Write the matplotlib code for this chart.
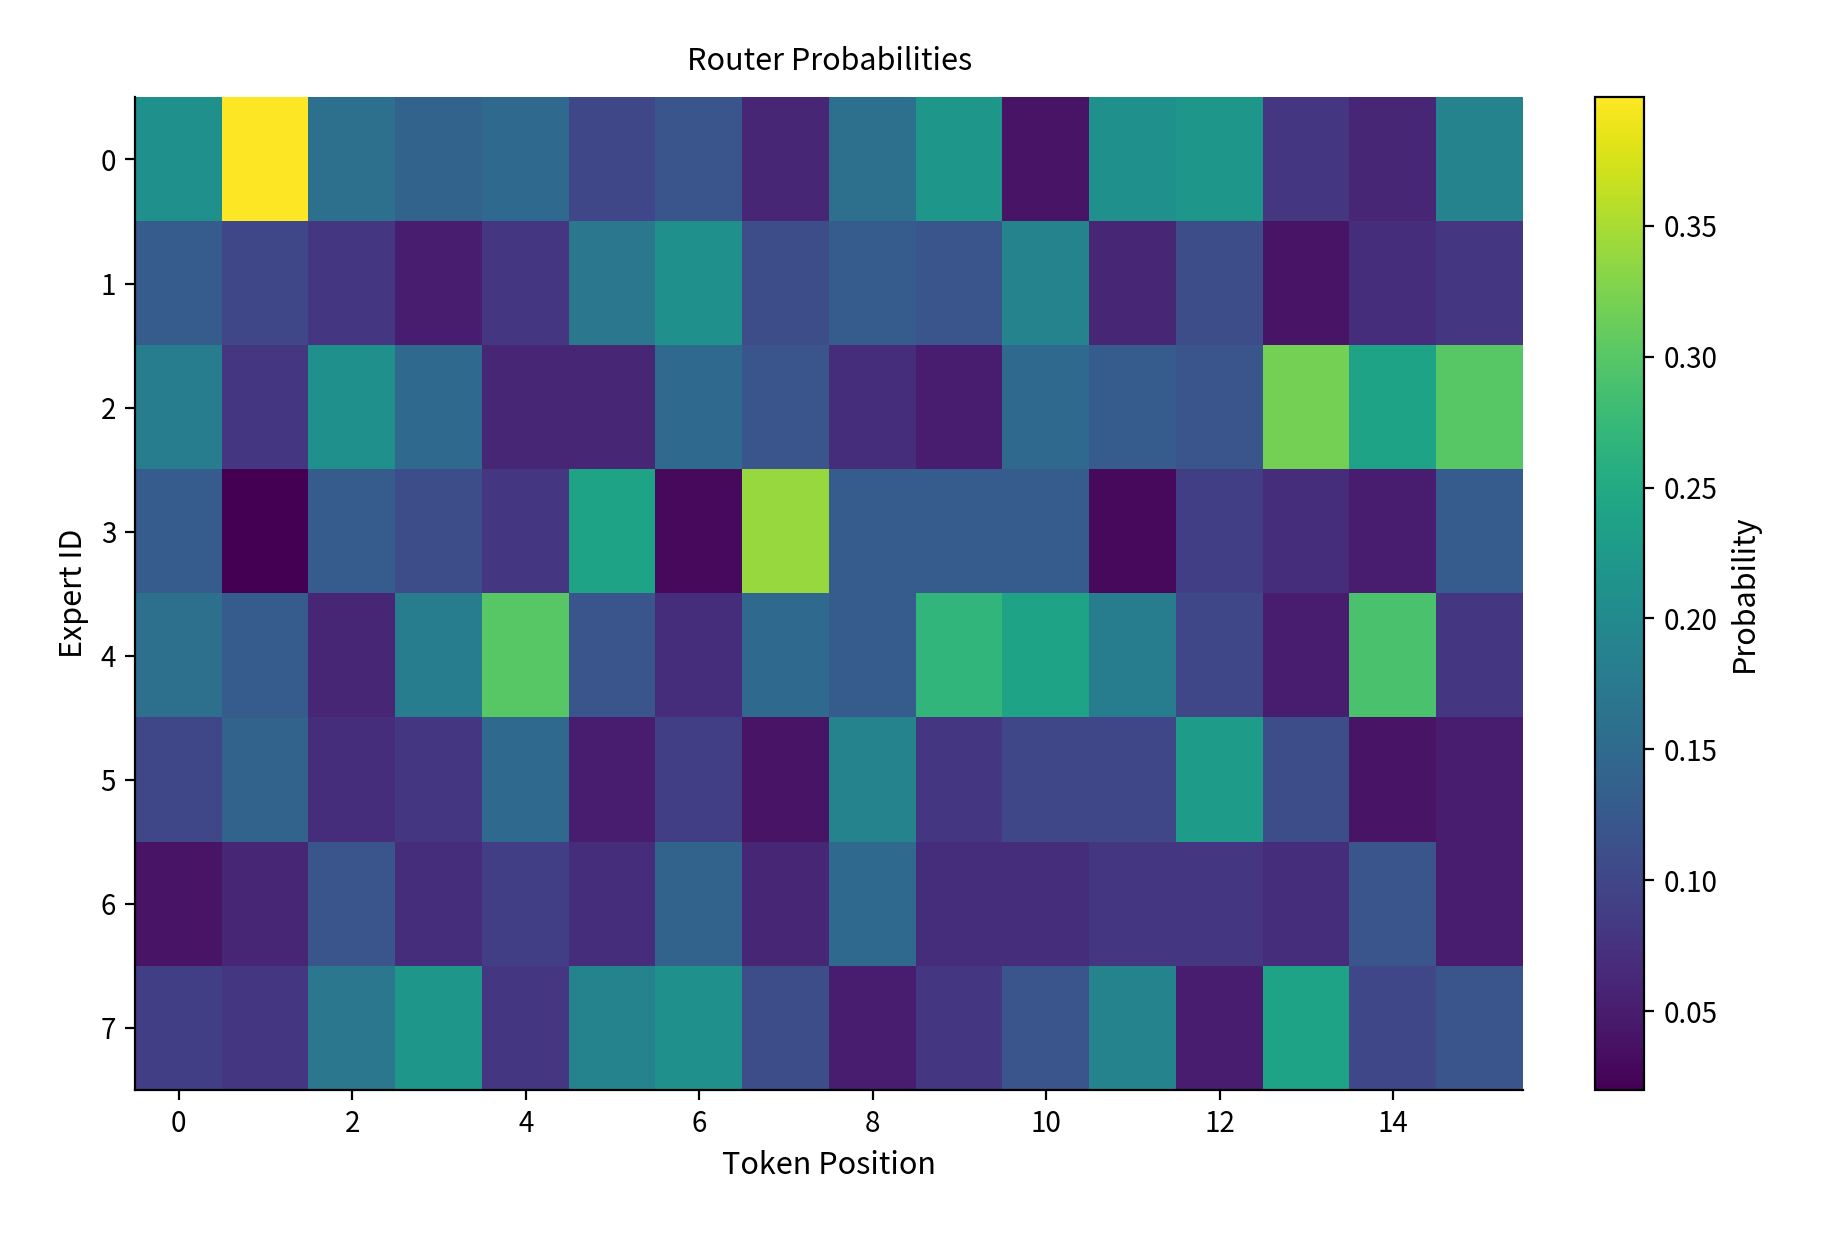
import matplotlib
matplotlib.use("Agg")
import matplotlib.pyplot as plt
import numpy as np

plt.rcParams['font.family'] = ['Noto Sans CJK KR', 'DejaVu Sans']

experts = list(range(8))
tokens = list(range(16))
row0 = [0.21, 0.399, 0.16, 0.14, 0.15, 0.10, 0.12, 0.06, 0.16, 0.22, 0.04, 0.21, 0.22, 0.08, 0.06, 0.19]
row1 = [0.13, 0.10, 0.08, 0.05, 0.08, 0.17, 0.21, 0.11, 0.13, 0.12, 0.19, 0.06, 0.11, 0.04, 0.07, 0.08]
row2 = [0.18, 0.08, 0.21, 0.15, 0.06, 0.06, 0.15, 0.12, 0.07, 0.05, 0.15, 0.13, 0.12, 0.32, 0.24, 0.30]
row3 = [0.13, 0.02, 0.13, 0.11, 0.08, 0.24, 0.03, 0.34, 0.13, 0.13, 0.13, 0.03, 0.09, 0.07, 0.05, 0.13]
row4 = [0.16, 0.13, 0.06, 0.18, 0.30, 0.12, 0.07, 0.15, 0.13, 0.27, 0.24, 0.18, 0.10, 0.05, 0.29, 0.08]
row5 = [0.10, 0.14, 0.07, 0.08, 0.15, 0.05, 0.09, 0.04, 0.19, 0.08, 0.10, 0.10, 0.23, 0.11, 0.04, 0.05]
row6 = [0.04, 0.06, 0.12, 0.07, 0.09, 0.07, 0.14, 0.06, 0.15, 0.07, 0.07, 0.08, 0.08, 0.07, 0.12, 0.05]
row7 = [0.09, 0.08, 0.17, 0.22, 0.08, 0.19, 0.21, 0.11, 0.05, 0.08, 0.12, 0.19, 0.05, 0.24, 0.10, 0.12]
data = np.array([row0, row1, row2, row3, row4, row5, row6, row7])

fig = plt.figure(figsize=(9.155, 6.17), dpi=200)
ax = fig.add_axes([0.074, 0.117, 0.758, 0.804])
cax = fig.add_axes([0.871, 0.117, 0.027, 0.804])
im = ax.imshow(data, cmap='viridis', aspect='auto', interpolation='nearest')
for s in ['top', 'right']:
    ax.spines[s].set_visible(False)
ax.set_xticks(tokens[::2])
ax.set_yticks(experts)
ax.tick_params(labelsize=10)
ax.set_xlabel('Token Position', fontsize=11)
ax.set_ylabel('Expert ID', fontsize=11)
ax.set_title('Router Probabilities', fontsize=11, pad=10)
cb = fig.colorbar(im, cax=cax)
cb.ax.tick_params(labelsize=10)
cb.set_label('Probability', fontsize=11)
fig.savefig('out.png', dpi=200)
